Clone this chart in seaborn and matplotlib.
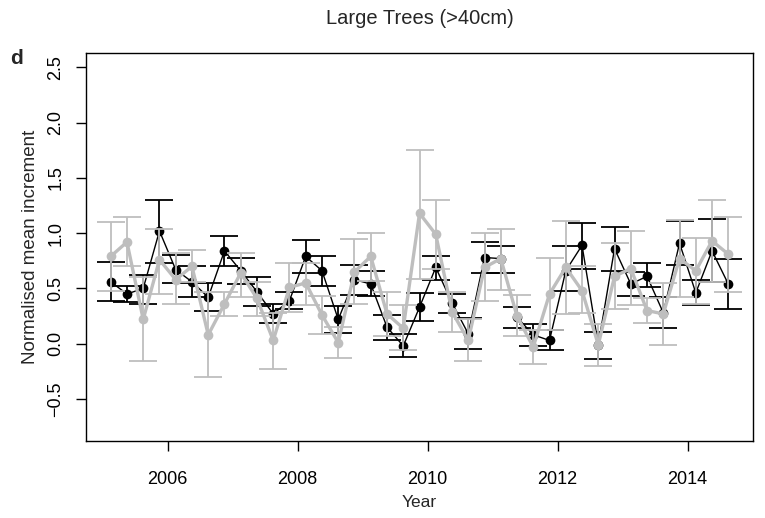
import numpy as np
import pandas as pd
import matplotlib
matplotlib.use("Agg")
import matplotlib.pyplot as plt
import seaborn as sns

# ---- data ----
first_year = 2005.125
step = 0.25
black_mean = [0.56, 0.45, 0.50, 1.02, 0.67, 0.56, 0.42, 0.84, 0.66, 0.47,
              0.27, 0.39, 0.79, 0.66, 0.22, 0.58, 0.54, 0.15, -0.02, 0.33,
              0.69, 0.37, 0.09, 0.78, 0.77, 0.24, 0.08, 0.03, 0.66, 0.89,
              -0.01, 0.86, 0.54, 0.61, 0.28, 0.91, 0.46, 0.84, 0.54]
black_lo = [0.39, 0.38, 0.36, 0.73, 0.55, 0.42, 0.30, 0.70, 0.54, 0.34,
            0.19, 0.31, 0.64, 0.52, 0.10, 0.44, 0.43, 0.03, -0.12, 0.21,
            0.58, 0.28, -0.05, 0.64, 0.64, 0.14, -0.02, -0.06, 0.48, 0.68,
            -0.14, 0.66, 0.43, 0.51, 0.14, 0.71, 0.35, 0.56, 0.31]
black_hi = [0.74, 0.52, 0.62, 1.30, 0.80, 0.70, 0.55, 0.97, 0.78, 0.60,
            0.36, 0.47, 0.94, 0.79, 0.34, 0.71, 0.66, 0.26, 0.09, 0.46,
            0.79, 0.45, 0.23, 0.92, 0.88, 0.33, 0.18, 0.12, 0.88, 1.09,
            0.11, 1.06, 0.65, 0.73, 0.42, 1.11, 0.58, 1.13, 0.77]
grey_mean = [0.79, 0.92, 0.22, 0.76, 0.58, 0.70, 0.08, 0.36, 0.64, 0.41,
             0.03, 0.51, 0.55, 0.26, 0.01, 0.65, 0.79, 0.27, 0.14, 1.18,
             0.99, 0.29, 0.03, 0.69, 0.77, 0.25, -0.03, 0.45, 0.69, 0.48,
             -0.01, 0.61, 0.68, 0.30, 0.27, 0.77, 0.66, 0.93, 0.81]
grey_lo = [0.48, 0.70, -0.16, 0.45, 0.36, 0.56, -0.30, 0.25, 0.42, 0.25,
           -0.23, 0.29, 0.35, 0.09, -0.13, 0.36, 0.57, 0.07, -0.06, 0.59,
           0.68, 0.11, -0.16, 0.39, 0.49, 0.07, -0.18, 0.12, 0.27, 0.28,
           -0.20, 0.31, 0.35, 0.19, -0.01, 0.42, 0.36, 0.56, 0.47]
grey_hi = [1.10, 1.15, 0.60, 1.04, 0.82, 0.85, 0.47, 0.47, 0.82, 0.56,
           0.28, 0.73, 0.73, 0.43, 0.15, 0.95, 1.00, 0.47, 0.35, 1.75,
           1.30, 0.47, 0.22, 1.00, 1.04, 0.44, 0.12, 0.78, 1.11, 0.70,
           0.18, 0.91, 1.02, 0.41, 0.55, 1.12, 0.96, 1.30, 1.15]
x_ticks = [2006, 2008, 2010, 2012, 2014]
y_ticks = [-0.5, 0.0, 0.5, 1.0, 1.5, 2.0, 2.5]

n = len(black_mean)
years = first_year + step * np.arange(n)
df = pd.DataFrame({"year": years, "black": black_mean, "grey": grey_mean})

sns.set_style("white")
plt.rcParams["font.family"] = ["Liberation Sans", "DejaVu Sans"]

GREY = "#BEBEBE"
fig = plt.figure(figsize=(7.65, 5.18), dpi=100)
ax = fig.add_axes([86 / 765, 1 - 441 / 518, (753 - 86) / 765, (441 - 53) / 518])

# black series
ax.errorbar(years, black_mean,
            yerr=[np.array(black_mean) - np.array(black_lo),
                  np.array(black_hi) - np.array(black_mean)],
            fmt="none", ecolor="black", elinewidth=1.3, capsize=10, capthick=1.3, zorder=2)
sns.lineplot(data=df, x="year", y="black", color="black", lw=1.0, marker="o",
             markersize=7, markeredgewidth=0, ax=ax, zorder=3)
# grey series
ax.errorbar(years, grey_mean,
            yerr=[np.array(grey_mean) - np.array(grey_lo),
                  np.array(grey_hi) - np.array(grey_mean)],
            fmt="none", ecolor=GREY, elinewidth=1.3, capsize=10, capthick=1.3, zorder=4)
sns.lineplot(data=df, x="year", y="grey", color=GREY, lw=2.4, marker="o",
             markersize=7, markeredgewidth=0, ax=ax, zorder=5)

xr = years[-1] - years[0]
ax.set_xlim(years[0] - 0.04 * xr, years[-1] + 0.04 * xr)
ax.set_ylim(-0.75 - 0.04 * 3.25, 2.5 + 0.04 * 3.25)
ax.set_xticks(x_ticks)
ax.set_xticklabels([str(v) for v in x_ticks])
ax.set_yticks(y_ticks)
ax.set_yticklabels(["\u22120.5" if v < 0 else f"{v:.1f}" for v in y_ticks],
                   rotation=90, va="center")
ax.tick_params(axis="both", direction="out", length=7.5, width=1.0,
               labelsize=13, color="black", labelcolor="black")
ax.tick_params(axis="x", pad=14)
ax.tick_params(axis="y", pad=8)
ax.tick_params(left=True, bottom=True)
for s in ax.spines.values():
    s.set_visible(True)
    s.set_color("black")
    s.set_linewidth(1.0)

ax.set_xlabel("Year", fontsize=12.5, labelpad=5)
ax.set_ylabel("Normalised mean increment", fontsize=13.5, labelpad=6)
ax.set_title("Large Trees (>40cm)", fontsize=14.5, pad=21)
fig.text(10 / 765, 1 - 64 / 518, "d", fontsize=15, fontweight="bold",
         ha="left", va="baseline")

fig.savefig("out.png", dpi=100)
